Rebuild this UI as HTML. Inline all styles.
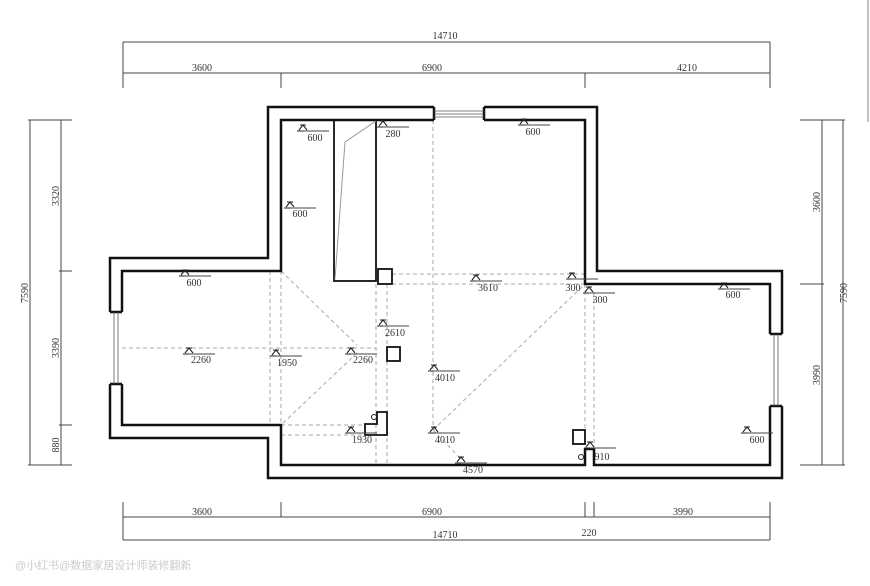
<!DOCTYPE html>
<html><head><meta charset="utf-8"><style>
html,body{margin:0;padding:0;background:#fff;width:870px;height:586px;overflow:hidden}
text{font-family:"Liberation Serif",serif;fill:#333;font-size:10px}
</style></head><body>
<svg width="870" height="586" viewBox="0 0 870 586" xmlns="http://www.w3.org/2000/svg">
<defs>
<g id="m"><path d="M-6,0 L6,0 M-3,-6 L3,-6 M-4,-1 L0,-6 L4,-1" stroke="#222" stroke-width="1.1" fill="none"/><line x1="0" y1="0" x2="26" y2="0" stroke="#444" stroke-width="1"/></g>
</defs>
<g stroke="#444" stroke-width="1" fill="none">
<line x1="123" y1="42" x2="770" y2="42"/><line x1="123" y1="42" x2="123" y2="88"/><line x1="770" y1="42" x2="770" y2="88"/>
<line x1="123" y1="73" x2="770" y2="73"/>
<line x1="281" y1="73" x2="281" y2="88"/><line x1="585" y1="73" x2="585" y2="88"/>
<line x1="123" y1="517" x2="770" y2="517"/><line x1="123" y1="540" x2="770" y2="540"/>
<line x1="123" y1="502" x2="123" y2="540"/><line x1="770" y1="502" x2="770" y2="540"/>
<line x1="281" y1="502" x2="281" y2="517"/><line x1="585" y1="502" x2="585" y2="517"/><line x1="594" y1="502" x2="594" y2="517"/>
<line x1="30" y1="120" x2="30" y2="465"/><line x1="61" y1="120" x2="61" y2="465"/>
<line x1="28" y1="120" x2="72" y2="120"/><line x1="28" y1="465" x2="72" y2="465"/>
<line x1="59" y1="271" x2="72" y2="271"/><line x1="59" y1="425" x2="72" y2="425"/>
<line x1="822" y1="120" x2="822" y2="465"/><line x1="843" y1="120" x2="843" y2="465"/>
<line x1="800" y1="120" x2="845" y2="120"/><line x1="800" y1="465" x2="845" y2="465"/>
<line x1="800" y1="284" x2="824" y2="284"/>
</g>
<line x1="868" y1="0" x2="868" y2="122" stroke="#aab" stroke-width="1.5"/>
<text x="445" y="39" text-anchor="middle">14710</text>
<text x="202" y="71" text-anchor="middle">3600</text>
<text x="432" y="71" text-anchor="middle">6900</text>
<text x="687" y="71" text-anchor="middle">4210</text>
<text x="202" y="515" text-anchor="middle">3600</text>
<text x="432" y="515" text-anchor="middle">6900</text>
<text x="683" y="515" text-anchor="middle">3990</text>
<text x="445" y="538" text-anchor="middle">14710</text>
<text x="589" y="536" text-anchor="middle">220</text>
<text transform="translate(28,293) rotate(-90)" text-anchor="middle">7590</text>
<text transform="translate(59,196) rotate(-90)" text-anchor="middle">3320</text>
<text transform="translate(59,348) rotate(-90)" text-anchor="middle">3390</text>
<text transform="translate(59,445) rotate(-90)" text-anchor="middle">880</text>
<text transform="translate(820,202) rotate(-90)" text-anchor="middle">3600</text>
<text transform="translate(820,375) rotate(-90)" text-anchor="middle">3990</text>
<text transform="translate(847,293) rotate(-90)" text-anchor="middle">7590</text>
<g stroke="#aaa" stroke-width="1" stroke-dasharray="4,3" fill="none">
<line x1="270" y1="271" x2="270" y2="425"/><line x1="281" y1="271" x2="281" y2="425"/>
<line x1="376" y1="284" x2="376" y2="465"/><line x1="387" y1="284" x2="387" y2="465"/>
<line x1="433" y1="120" x2="433" y2="430"/>
<line x1="585" y1="284" x2="585" y2="445"/><line x1="594" y1="292" x2="594" y2="455"/>
<line x1="392" y1="274" x2="585" y2="274"/><line x1="392" y1="284" x2="585" y2="284"/>
<line x1="122" y1="348" x2="376" y2="348"/>
<line x1="281" y1="425" x2="365" y2="425"/><line x1="281" y1="435" x2="365" y2="435"/>
<line x1="281" y1="271" x2="357" y2="345"/><line x1="357" y1="353" x2="281" y2="425"/>
<line x1="433" y1="430" x2="585" y2="284"/><line x1="433" y1="430" x2="460" y2="458"/>
</g>
<g stroke="#111" stroke-width="2.5" fill="none">
<path d="M434,107 L268,107 L268,258 L110,258 L110,312 M110,384 L110,438 L268,438 L268,478 L782,478 L782,406 M782,334 L782,271 L597,271 L597,107 L484,107"/>
<path d="M434,120 L281,120 L281,271 L122,271 L122,312 M122,384 L122,425 L281,425 L281,465 L585,465 L585,449 L594,449 L594,465 L770,465 L770,406 M770,334 L770,284 L585,284 L585,120 L484,120"/>
<path d="M434,107 L434,120 M484,107 L484,120 M110,312 L122,312 M110,384 L122,384 M770,334 L782,334 M770,406 L782,406"/>
</g>
<g stroke="#555" stroke-width="0.8">
<line x1="434" y1="111" x2="484" y2="111"/><line x1="434" y1="114" x2="484" y2="114"/><line x1="434" y1="117" x2="484" y2="117"/>
<line x1="114" y1="312" x2="114" y2="384"/><line x1="118" y1="312" x2="118" y2="384"/>
<line x1="774" y1="334" x2="774" y2="406"/><line x1="778" y1="334" x2="778" y2="406"/>
</g>
<g stroke="#111" stroke-width="1.8" fill="none">
<rect x="334" y="120" width="42" height="161"/>
<rect x="378" y="269" width="14" height="15"/>
<rect x="387" y="347" width="13" height="14"/>
<path d="M377,412 L387,412 L387,435 L365,435 L365,424 L377,424 Z"/>
<rect x="573" y="430" width="12" height="14"/>
</g>
<path d="M376,121 L345,142 L335,279" stroke="#999" stroke-width="1" fill="none"/>
<circle cx="374" cy="417" r="2.5" stroke="#222" fill="none"/>
<circle cx="581" cy="457" r="2.5" stroke="#222" fill="none"/>
<use href="#m" x="303" y="131"/><text x="315" y="141" text-anchor="middle">600</text>
<use href="#m" x="383" y="127"/><text x="393" y="137" text-anchor="middle">280</text>
<use href="#m" x="524" y="125"/><text x="533" y="135" text-anchor="middle">600</text>
<use href="#m" x="290" y="208"/><text x="300" y="217" text-anchor="middle">600</text>
<use href="#m" x="185" y="276"/><text x="194" y="286" text-anchor="middle">600</text>
<use href="#m" x="476" y="281"/><text x="488" y="291" text-anchor="middle">3610</text>
<use href="#m" x="572" y="279"/><text x="573" y="291" text-anchor="middle">300</text>
<use href="#m" x="589" y="293"/><text x="600" y="303" text-anchor="middle">300</text>
<use href="#m" x="724" y="289"/><text x="733" y="298" text-anchor="middle">600</text>
<use href="#m" x="383" y="326"/><text x="395" y="336" text-anchor="middle">2610</text>
<use href="#m" x="189" y="354"/><text x="201" y="363" text-anchor="middle">2260</text>
<use href="#m" x="276" y="356"/><text x="287" y="366" text-anchor="middle">1950</text>
<use href="#m" x="351" y="354"/><text x="363" y="363" text-anchor="middle">2260</text>
<use href="#m" x="434" y="371"/><text x="445" y="381" text-anchor="middle">4010</text>
<use href="#m" x="434" y="433"/><text x="445" y="443" text-anchor="middle">4010</text>
<use href="#m" x="351" y="433"/><text x="362" y="443" text-anchor="middle">1930</text>
<use href="#m" x="461" y="463"/><text x="473" y="473" text-anchor="middle">4570</text>
<use href="#m" x="590" y="448"/><text x="602" y="460" text-anchor="middle">910</text>
<use href="#m" x="747" y="433"/><text x="757" y="443" text-anchor="middle">600</text>
<text x="15" y="569" style="font-size:11px;fill:#ccc;font-family:'Liberation Sans','Noto Sans CJK SC',sans-serif">@小红书@数据家居设计师装修翻新</text>
</svg>
</body></html>
